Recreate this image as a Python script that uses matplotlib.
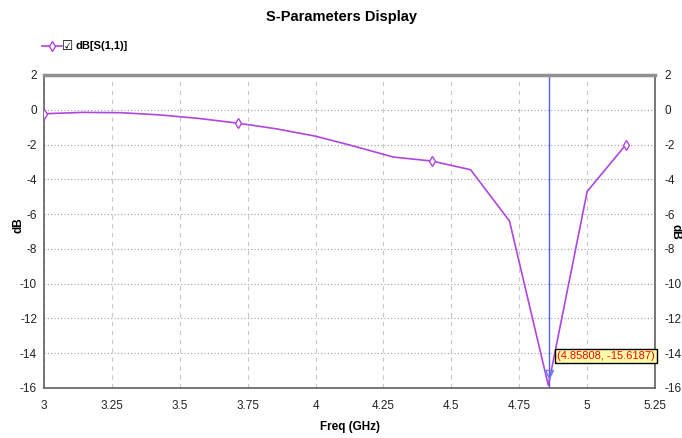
import matplotlib.pyplot as plt
import numpy as np

# S11 sweep (GHz, dB)
freq = [3.0, 3.143, 3.286, 3.429, 3.571, 3.714, 3.857, 4.0,
        4.143, 4.286, 4.429, 4.571, 4.714, 4.857, 5.0, 5.143]
s11_db = [-0.23, -0.15, -0.17, -0.30, -0.50, -0.77, -1.10, -1.52,
          -2.10, -2.72, -2.95, -3.45, -6.40, -15.85, -4.70, -2.00]
marker_freq = 4.85808
marker_db = -15.6187
xticks = [3, 3.25, 3.5, 3.75, 4, 4.25, 4.5, 4.75, 5, 5.25]
xticklabels = ["3", "3.25", "3.5", "3.75", "4", "4.25", "4.5", "4.75", "5", "5.25"]
yticks = list(range(-16, 3, 2))

plt.rcParams['font.family'] = ['Liberation Sans', 'DejaVu Sans']
plt.rcParams['axes.unicode_minus'] = False
line_col = '#b045e0'

fig = plt.figure(figsize=(6.82, 4.38), dpi=100)
ax = fig.add_axes([0.0645, 0.1142, 0.896, 0.7146])

ax.plot(freq, s11_db, color=line_col, lw=1.2, marker='d', markersize=5,
        markerfacecolor='white', markeredgecolor=line_col, markevery=5, zorder=3)

# marker line + readout
ax.axvline(marker_freq, color='#5060ff', lw=1.0, zorder=2)
ax.plot([marker_freq], [marker_db + 0.4], marker='v', color='#6080ff', markersize=6,
        markerfacecolor='none', zorder=4)
ax.text(4.89, -14.15, "(%.5f, %.4f)" % (marker_freq, marker_db), color='red',
        fontsize=8, va='center', ha='left',
        bbox=dict(boxstyle='square,pad=0.2', facecolor='#ffffa8', edgecolor='black', lw=1.0))

ax.set_xlim(3, 5.25)
ax.set_ylim(-16, 2)
ax.set_xticks(xticks)
ax.set_xticklabels(xticklabels)
ax.set_yticks(yticks)
ax.tick_params(length=0, labelsize=8.5, pad=9, colors='#222222')
ax.tick_params(axis='y', pad=5)

ax.xaxis.grid(True, linestyle=(0, (4, 4)), color='#c8c8c8', lw=0.8)
ax.yaxis.grid(True, linestyle=(0, (1, 2)), color='#a0a0a0', lw=0.8)
ax.set_axisbelow(True)

for side in ['left', 'right', 'bottom']:
    ax.spines[side].set_color('#606060')
    ax.spines[side].set_linewidth(1.2)
ax.spines['top'].set_color('#909090')
ax.spines['top'].set_linewidth(2.5)

ax2 = ax.twinx()
ax2.set_ylim(-16, 2)
ax2.set_yticks(yticks)
ax2.tick_params(length=0, labelsize=8.5, pad=7, colors='#222222')
for s in ax2.spines.values():
    s.set_visible(False)

ax.set_xlabel("Freq (GHz)", fontsize=8.5, fontweight='bold', labelpad=6)
fig.text(0.027, 0.487, "dB", rotation=90, ha='center', va='center',
         fontsize=8.5, fontweight='bold')
fig.text(0.991, 0.47, "dB", rotation=270, ha='center', va='center',
         fontsize=8.5, fontweight='bold')

fig.text(0.5, 0.962, "S-Parameters Display", ha='center', va='center',
         fontsize=10.5, fontweight='bold')

# legend strip
fig.lines.append(plt.Line2D([0.062, 0.091], [0.895, 0.895], transform=fig.transFigure,
                            color=line_col, lw=1.2))
fig.lines.append(plt.Line2D([0.0765], [0.895], transform=fig.transFigure,
                            color=line_col, marker='d', markersize=5, lw=0,
                            markerfacecolor='white', markeredgecolor=line_col))
fig.text(0.091, 0.895, "\u2611", ha='left', va='center', fontsize=9,
         family='DejaVu Sans')
fig.text(0.111, 0.895, "dB[S(1,1)]", ha='left', va='center', fontsize=8,
         fontweight='bold')

fig.savefig("out.png", dpi=100)
